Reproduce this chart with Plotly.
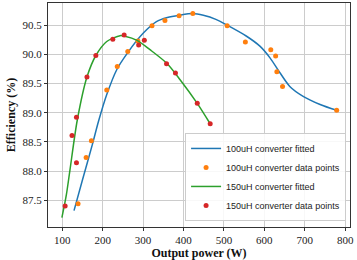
import plotly.graph_objects as go

# 100uH fitted curve
fit100_x = [129, 150, 175, 190, 210, 235, 262, 300, 333, 360, 389, 423, 449, 480, 508, 556, 589, 614, 639, 663, 696, 738, 779]
fit100_y = [87.32, 87.85, 88.47, 88.86, 89.31, 89.74, 90.03, 90.36, 90.56, 90.63, 90.67, 90.70, 90.67, 90.60, 90.50, 90.31, 90.14, 89.94, 89.68, 89.45, 89.28, 89.14, 89.04]

# 100uH data points
pts100_x = [139, 159, 172, 210, 236, 262, 287, 322, 354, 389, 423, 508, 553, 616, 628, 631, 645, 779]
pts100_y = [87.44, 88.23, 88.52, 89.39, 89.79, 90.05, 90.23, 90.49, 90.58, 90.66, 90.70, 90.49, 90.21, 90.08, 89.97, 89.70, 89.45, 89.04]

# 150uH fitted curve
fit150_x = [99, 110, 119, 137, 161, 183, 210, 243, 255, 285, 317, 358, 391, 434, 466]
fit150_y = [87.20, 87.59, 88.02, 88.87, 89.61, 89.98, 90.22, 90.32, 90.31, 90.24, 90.08, 89.85, 89.57, 89.16, 88.81]

# 150uH data points
pts150_x = [107, 124, 135, 135, 161, 183, 225, 253, 289, 303, 358, 380, 434, 466]
pts150_y = [87.40, 88.61, 88.14, 88.92, 89.61, 89.98, 90.26, 90.33, 90.16, 90.24, 89.84, 89.68, 89.16, 88.81]

x_ticks = [100, 200, 300, 400, 500, 600, 700, 800]
y_ticks = [87.5, 88.0, 88.5, 89.0, 89.5, 90.0, 90.5]

fig = go.Figure()
fig.add_trace(go.Scatter(x=fit100_x, y=fit100_y, mode="lines", name="100uH converter fitted",
                         line=dict(color="#1f77b4", width=1.5, shape="spline", smoothing=0.8)))
fig.add_trace(go.Scatter(x=pts100_x, y=pts100_y, mode="markers", name="100uH converter data points",
                         marker=dict(color="#ff7f0e", size=5)))
fig.add_trace(go.Scatter(x=fit150_x, y=fit150_y, mode="lines", name="150uH converter fitted",
                         line=dict(color="#2ca02c", width=1.5, shape="spline", smoothing=0.8)))
fig.add_trace(go.Scatter(x=pts150_x, y=pts150_y, mode="markers", name="150uH converter data points",
                         marker=dict(color="#d62728", size=5)))

axis_common = dict(showgrid=True, gridcolor="#cccccc", gridwidth=1.2, showline=True, mirror=True,
                   linecolor="#333333", linewidth=1, ticks="outside", ticklen=3, tickcolor="#333333",
                   zeroline=False, tickfont=dict(family="Liberation Serif", size=11, color="#222222"))

fig.update_xaxes(range=[64.6, 812], tickvals=x_ticks, ticktext=[str(v) for v in x_ticks],
                 title=dict(text="<b>Output power (W)</b>", standoff=0,
                            font=dict(family="Liberation Serif", size=12, color="#111111")),
                 **axis_common)
fig.update_yaxes(range=[87.04, 90.88], tickvals=y_ticks, ticktext=[f"{v:.1f}" for v in y_ticks],
                 title=dict(text="<b>Efficiency (%)</b>", standoff=4,
                            font=dict(family="Liberation Serif", size=12, color="#111111")),
                 **axis_common)

fig.update_layout(
    width=357, height=260,
    margin=dict(l=48, r=7, t=3, b=33),
    plot_bgcolor="white", paper_bgcolor="white",
    showlegend=True,
    legend=dict(x=0.987, y=0.027, xanchor="right", yanchor="bottom",
                bgcolor="rgba(255,255,255,0.85)", bordercolor="#cccccc", borderwidth=1,
                font=dict(family="Liberation Sans", size=9, color="#222222"),
                itemwidth=30, tracegroupgap=0),
)

fig.write_html("out.html", config={"displayModeBar": False},
               post_script="document.body.style.margin='0px';document.body.style.overflow='hidden';")
